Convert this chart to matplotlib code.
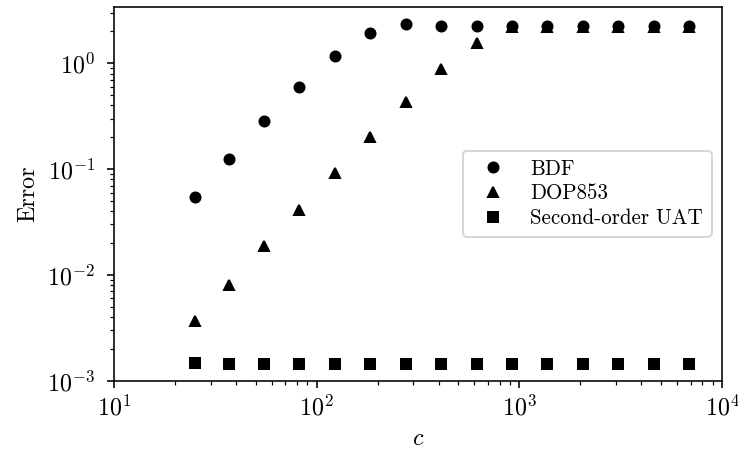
import matplotlib
matplotlib.use("Agg")
import matplotlib.pyplot as plt

plt.rcParams["font.family"] = "serif"
plt.rcParams["font.serif"] = ["cmr10"]
plt.rcParams["mathtext.fontset"] = "cm"
plt.rcParams["axes.formatter.use_mathtext"] = True
plt.rcParams["font.size"] = 12

# valores de c
c = [25, 37, 55, 82, 123, 184, 275, 411, 615, 920, 1375, 2055, 3075, 4600, 6880]

err_bdf = [0.0544, 0.125, 0.283, 0.593, 1.17, 1.95, 2.36, 2.25,
           2.24, 2.23, 2.23, 2.23, 2.23, 2.23, 2.23]
err_dop = [0.00365, 0.0081, 0.0186, 0.0407, 0.092, 0.202, 0.433, 0.877,
           1.55, 2.22, 2.22, 2.22, 2.22, 2.22, 2.22]
err_uat = [0.00147, 0.00143, 0.00143, 0.00143, 0.00143, 0.00143, 0.00143, 0.00143,
           0.00143, 0.00143, 0.00143, 0.00143, 0.00143, 0.00143, 0.00143]

fig = plt.figure(figsize=(738 / 144, 451 / 144), dpi=144)
ax = fig.add_axes([114 / 738, 1 - 380.7 / 451, (722 - 114) / 738, (380.7 - 6.7) / 451])

ax.plot(c, err_bdf, "o", color="k", markersize=5, label="BDF")
ax.plot(c, err_dop, "^", color="k", markersize=5, label="DOP853")
ax.plot(c, err_uat, "s", color="k", markersize=5, label="Second-order UAT")

ax.set_xscale("log")
ax.set_yscale("log")
ax.set_xlim(10, 1e4)
ax.set_ylim(1e-3, 3.43)
ax.tick_params(axis="y", which="major", pad=6)
ax.set_xlabel("$c$")
ax.set_ylabel("Error")
ax.legend(loc="center right", numpoints=1, fontsize=10.5, labelspacing=0.25)

fig.savefig("out.png", dpi=144)
